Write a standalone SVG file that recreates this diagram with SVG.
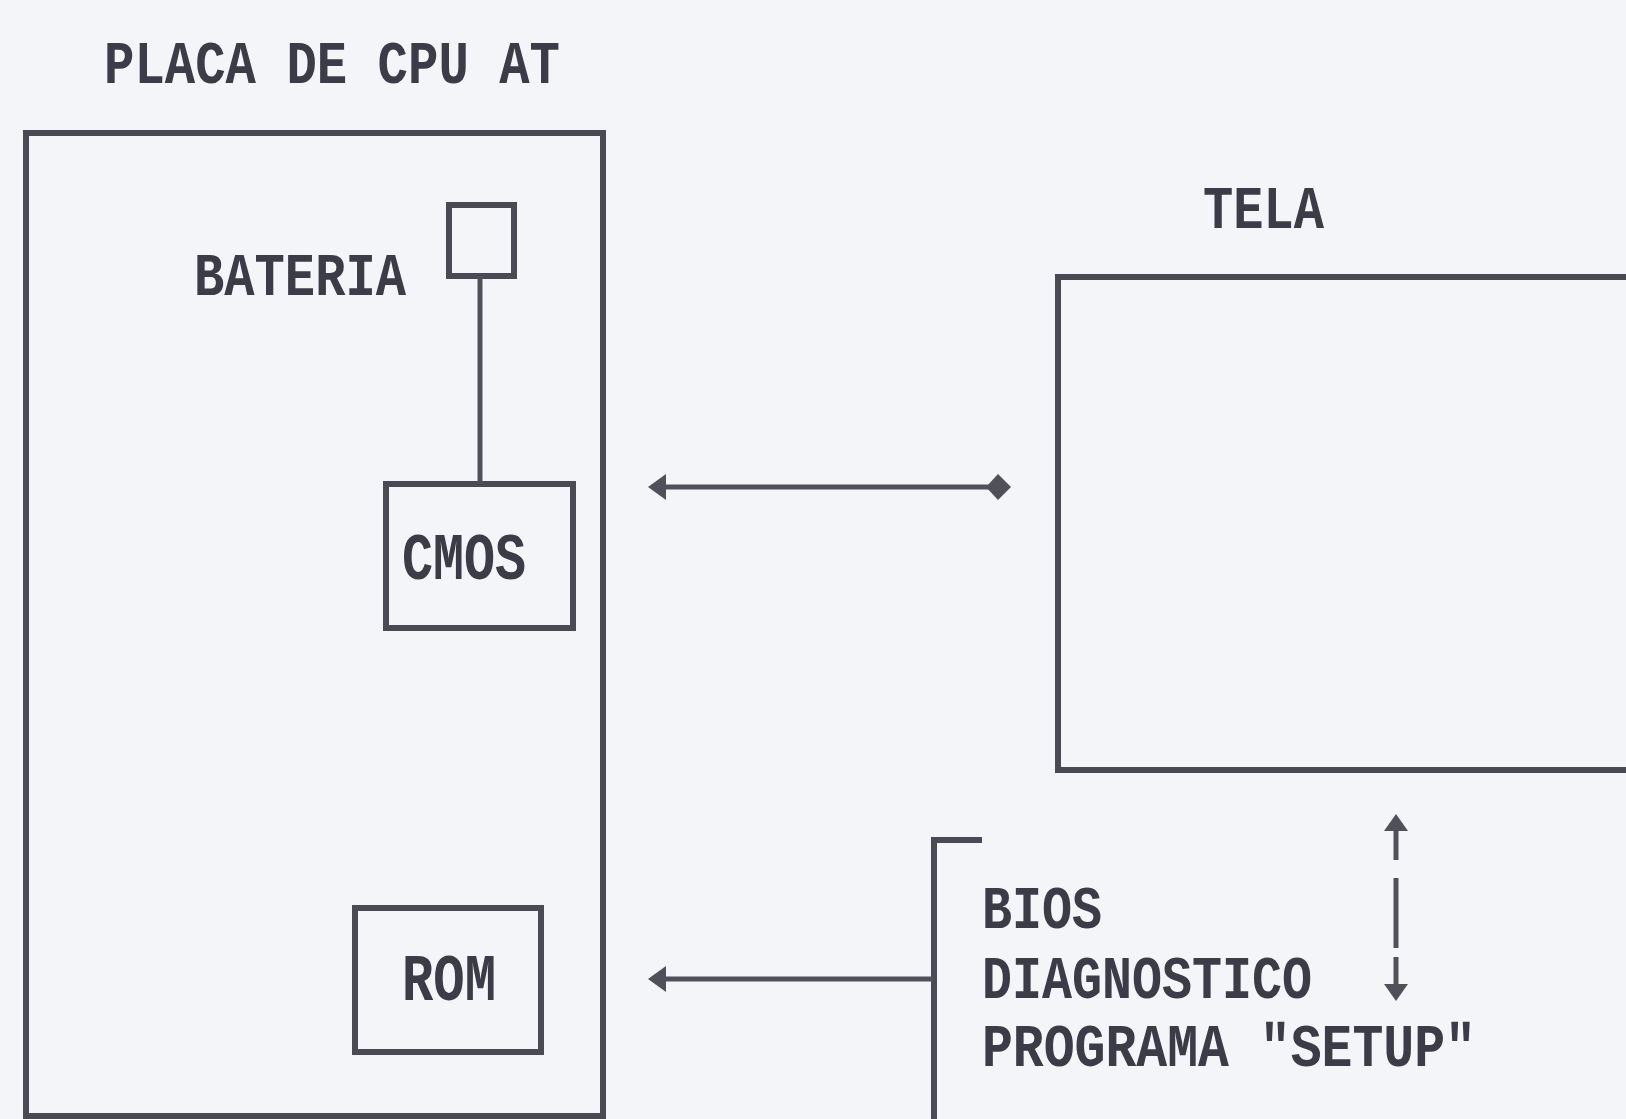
<svg xmlns="http://www.w3.org/2000/svg" width="1626" height="1119" viewBox="0 0 1626 1119">
<style>
.bg{fill:#f4f5f8}
.box{fill:none;stroke:#4a4a55;stroke-width:6}
.ln{fill:none;stroke:#50505b;stroke-width:5}
.hd{fill:#50505b}
.t{font-family:"Liberation Mono","Courier New",monospace;font-weight:bold;fill:#3c3c48;font-size:61px}
</style>
<rect class="bg" x="0" y="0" width="1626" height="1119"/>
<g id="title"><text class="t" x="104" y="83" textLength="456" lengthAdjust="spacingAndGlyphs">PLACA DE CPU AT</text></g>
<g id="placa"><rect class="box" x="26" y="133" width="577" height="983"/></g>
<g id="bateria">
<rect class="box" x="449" y="205" width="65" height="71"/>
<text class="t" x="194" y="295" textLength="212" lengthAdjust="spacingAndGlyphs">BATERIA</text>
</g>
<g id="cmos">
<rect class="box" x="386" y="484" width="187" height="144"/>
<text class="t" x="402" y="579" style="font-size:67px" textLength="124" lengthAdjust="spacingAndGlyphs">CMOS</text>
</g>
<g id="rom">
<rect class="box" x="355" y="908" width="186" height="144"/>
<text class="t" x="402" y="1000" style="font-size:67px" textLength="94" lengthAdjust="spacingAndGlyphs">ROM</text>
</g>
<g id="tela">
<text class="t" x="1203" y="228" textLength="121" lengthAdjust="spacingAndGlyphs">TELA</text>
<rect class="box" x="1058" y="277" width="600" height="493"/>
</g>
<g id="software">
<path class="box" d="M982,840 H934 V1125"/>
<text class="t" x="982" y="928" textLength="120" lengthAdjust="spacingAndGlyphs">BIOS</text>
<text class="t" x="982" y="998" textLength="330" lengthAdjust="spacingAndGlyphs">DIAGNOSTICO</text>
<text class="t" x="982" y="1066" textLength="494" lengthAdjust="spacingAndGlyphs">PROGRAMA "SETUP"</text>
</g>
<g id="connectors">
<line class="ln" x1="480" y1="276" x2="480" y2="484"/>
<line class="ln" x1="660" y1="487" x2="990" y2="487"/>
<polygon class="hd" points="648,487 666,474 666,500"/>
<polygon class="hd" points="986,487 998,474 998,500"/>
<polygon class="hd" points="1011,487 998,474 998,500"/>
<line class="ln" x1="934" y1="979" x2="660" y2="979"/>
<polygon class="hd" points="648,979 666,966 666,992"/>
<polygon class="hd" points="1396,814 1384,831 1408,831"/>
<line class="ln" x1="1396" y1="828" x2="1396" y2="860"/>
<line class="ln" x1="1396" y1="878" x2="1396" y2="948"/>
<line class="ln" x1="1396" y1="957" x2="1396" y2="988"/>
<polygon class="hd" points="1396,1001 1384,984 1408,984"/>
</g>
</svg>
